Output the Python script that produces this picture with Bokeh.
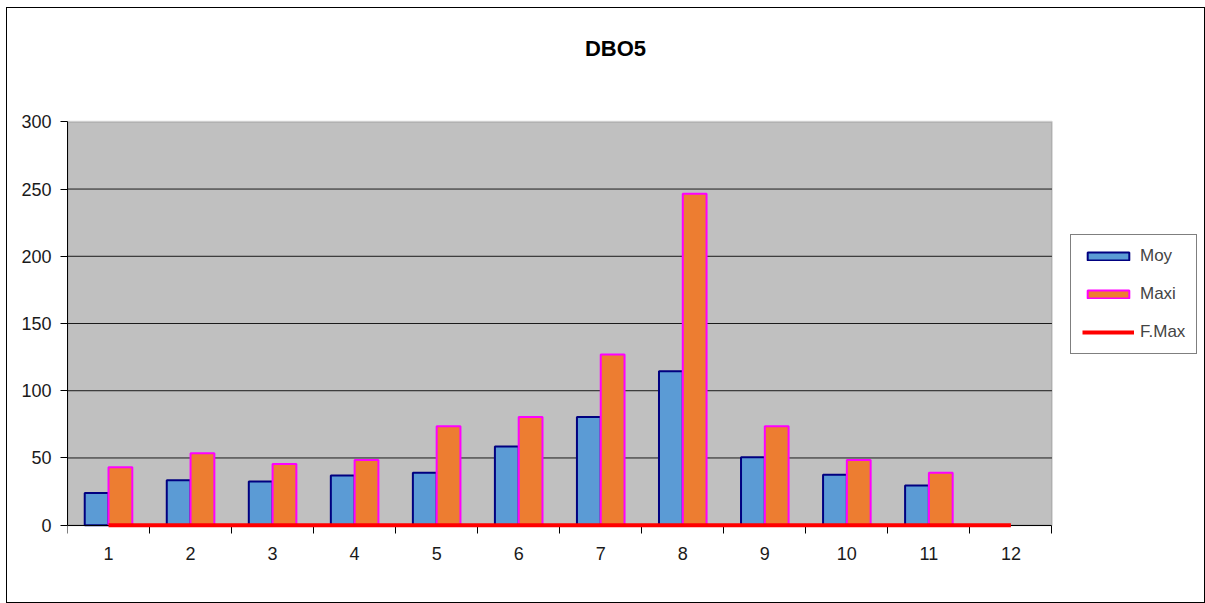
from bokeh.plotting import figure
from bokeh.models import (ColumnDataSource, FixedTicker, Legend, LegendItem, Label,
                          BoxAnnotation)
from bokeh.transform import dodge
from bokeh.embed import file_html
from bokeh.resources import INLINE

NaN = float("nan")

categories = [1, 2, 3, 4, 5, 6, 7, 8, 9, 10, 11, 12]
moy = [24, 33.5, 32.5, 37, 39, 58.5, 80.5, 114.5, 50.5, 37.5, 29.5, NaN]
maxi = [43, 53.5, 45.5, 48.5, 73.5, 80.5, 127, 246.5, 73.5, 48.5, 39, NaN]
fmax = [0, 0, 0, 0, 0, 0, 0, 0, 0, 0, 0, 0]
y_ticks = [0, 50, 100, 150, 200, 250, 300]
title_text = "DBO5"

src = ColumnDataSource(dict(cat=categories, moy=moy, maxi=maxi, fmax=fmax))

FONT = "Liberation Sans"
X0, X1 = 0.5, 12.5
Y0, Y1 = 0, 300

p = figure(width=1199, height=596, output_backend="svg", toolbar_location=None,
           x_range=(X0, 14.384), y_range=(-59.0, 384.3),
           min_border_left=60, min_border_right=0, min_border_top=0, min_border_bottom=0,
           background_fill_color="white", border_fill_color="white", title=None)
p.margin = (7, 0, 0, 6)
p.styles = {"border": "1px solid black"}
p.outline_line_color = None
p.xgrid.grid_line_color = None
p.ygrid.grid_line_color = None

# plot area
p.add_layout(BoxAnnotation(left=X0, right=X1, bottom=Y0, top=Y1, fill_color="#C0C0C0",
                           fill_alpha=1, line_color="#808080", line_width=2, level="underlay"))
grid_y = y_ticks[1:-1]
p.segment(x0=[X0] * len(grid_y), x1=[X1] * len(grid_y), y0=grid_y, y1=grid_y,
          line_color="#1a1a1a", line_width=1)

bw = 0.29
r_moy = p.vbar(x=dodge("cat", -bw / 2, range=p.x_range), top="moy", width=bw, source=src,
               fill_color="#5B9BD5", line_color="#000080", line_width=2)
r_maxi = p.vbar(x=dodge("cat", bw / 2, range=p.x_range), top="maxi", width=bw, source=src,
                fill_color="#ED7D31", line_color="#FF00FF", line_width=2)
r_fmax = p.line(x="cat", y="fmax", source=src, line_color="#FF0000", line_width=4,
                level="overlay")

# axes
p.xaxis.fixed_location = 0
p.xaxis.bounds = (X0, X1)
p.xaxis.ticker = FixedTicker(ticks=categories, minor_ticks=[c - 0.5 for c in categories] + [12.5])
p.xaxis.major_tick_line_color = None
p.xaxis.minor_tick_line_color = "black"
p.xaxis.minor_tick_out = 8
p.xaxis.minor_tick_in = 0
p.xaxis.axis_line_color = "black"
p.xaxis.major_label_standoff = 14
p.xaxis.major_label_text_font = FONT
p.xaxis.major_label_text_font_size = "18px"
p.xaxis.major_label_text_color = "#1a1a1a"

p.yaxis.bounds = (Y0, Y1)
p.yaxis.ticker = FixedTicker(ticks=y_ticks)
p.yaxis.minor_tick_line_color = None
p.yaxis.major_tick_out = 7
p.yaxis.major_tick_in = 0
p.yaxis.axis_line_color = "black"
p.yaxis.major_label_standoff = 9
p.yaxis.major_label_text_font = FONT
p.yaxis.major_label_text_font_size = "18px"
p.yaxis.major_label_text_color = "#1a1a1a"

# title (positioned relative to the frame in screen pixels)
p.add_layout(Label(x=548, y=556, x_units="screen", y_units="screen", text=title_text,
                   text_font=FONT, text_font_style="bold", text_font_size="22px",
                   text_align="center", text_baseline="middle", text_color="black"))

legend = Legend(items=[LegendItem(label="Moy", renderers=[r_moy]),
                       LegendItem(label="Maxi", renderers=[r_maxi]),
                       LegendItem(label="F.Max", renderers=[r_fmax])],
                location=(1003, 250), orientation="vertical",
                glyph_width=52, glyph_height=10, label_standoff=6,
                label_text_font=FONT, label_text_font_size="17px",
                spacing=18, padding=11, margin=0,
                border_line_color="black", border_line_width=1,
                background_fill_color="white", background_fill_alpha=1)
p.add_layout(legend, "center")

open("out.html", "w").write(file_html(p, INLINE))
